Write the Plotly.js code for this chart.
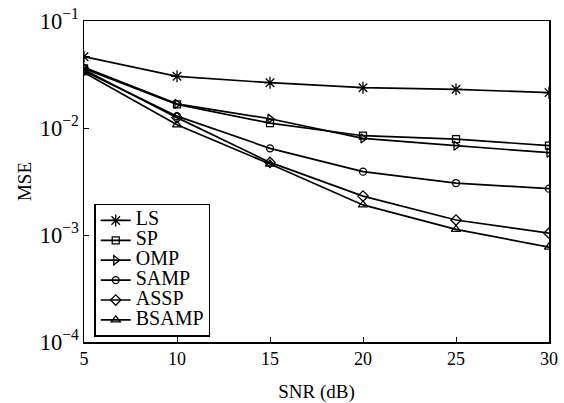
<!DOCTYPE html>
<html>
<head>
<meta charset="utf-8">
<script src="https://cdn.plot.ly/plotly-3.0.1.min.js"></script>
<style>html,body{margin:0;padding:0;background:#fff;}#chart{width:564px;height:403px;}</style>
</head>
<body>
<div id="chart"></div>
<script>
const snr = [5, 10, 15, 20, 25, 30];
const seriesNames = ["LS", "SP", "OMP", "SAMP", "ASSP", "BSAMP"];
const LS    = [0.0464, 0.0304, 0.0265, 0.0238, 0.0230, 0.0214];
const SP    = [0.0360, 0.0166, 0.0111, 0.00847, 0.00788, 0.00684];
const OMP   = [0.0370, 0.0168, 0.0122, 0.0080, 0.00684, 0.00588];
const SAMP  = [0.0340, 0.0129, 0.00646, 0.00391, 0.00306, 0.00271];
const ASSP  = [0.0350, 0.0125, 0.00477, 0.00231, 0.00138, 0.00104];
const BSAMP = [0.0330, 0.0107, 0.00461, 0.00191, 0.00113, 0.00077];
const seriesValues = [LS, SP, OMP, SAMP, ASSP, BSAMP];
const symbols = ["asterisk-open", "square-open", "triangle-right-open", "circle-open", "diamond-open", "triangle-up-open"];
const sizes = [10, 7, 8, 7, 8, 8];

const fam = "Liberation Serif, Times New Roman, serif";
const font = {family: fam, color: "#000"};
const traces = seriesNames.map((n, i) => ({
  x: snr, y: seriesValues[i],
  name: '<span style="font-size:20px">' + n + '</span>',
  type: "scatter", mode: "lines+markers",
  line: {color: "#000", width: 1.7},
  marker: {symbol: symbols[i], size: sizes[i], color: "#000", line: {color: "#000", width: 1.3}}
}));

const layout = {
  width: 564, height: 403,
  margin: {l: 84, r: 15, t: 21, b: 61},
  paper_bgcolor: "#fff", plot_bgcolor: "#fff",
  font: Object.assign({size: 18}, font),
  showlegend: true,
  legend: {
    x: 0.022, y: 0.43, xanchor: "left", yanchor: "top",
    bgcolor: "#fff", bordercolor: "#000", borderwidth: 1.5,
    font: Object.assign({size: 13}, font),
    tracegroupgap: 0, itemwidth: 30
  },
  xaxis: {
    range: [5, 30], tickvals: snr, ticktext: snr.map(String),
    ticks: "inside", ticklen: 5, tickcolor: "#000",
    showline: true, linecolor: "#000", linewidth: 1.5, mirror: true,
    showgrid: false, zeroline: false,
    tickfont: Object.assign({size: 18}, font),
    title: {text: "SNR (dB)", font: Object.assign({size: 19}, font), standoff: 17}
  },
  yaxis: {
    type: "log", range: [-4, -1], dtick: 1, exponentformat: "power",
    ticks: "inside", ticklen: 5, tickcolor: "#000",
    showline: true, linecolor: "#000", linewidth: 1.5, mirror: true,
    showgrid: false, zeroline: false,
    tickfont: Object.assign({size: 18}, font),
    title: {text: "MSE", font: Object.assign({size: 19}, font), standoff: 3}
  }
};

Plotly.newPlot("chart", traces, layout, {displayModeBar: false, staticPlot: true});
</script>
</body>
</html>
